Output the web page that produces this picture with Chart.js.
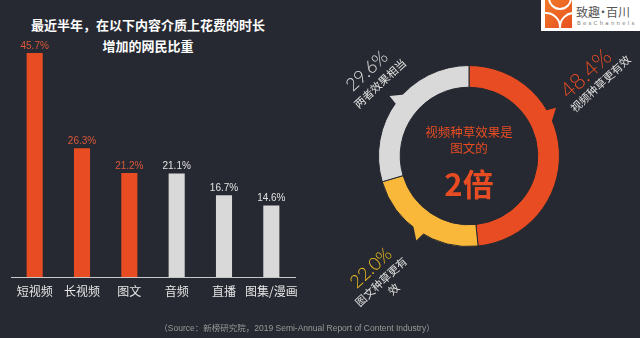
<!DOCTYPE html>
<html><head><meta charset="utf-8">
<script src="https://cdn.jsdelivr.net/npm/chart.js@4/dist/chart.umd.min.js"></script>
<style>
html,body{margin:0;padding:0;width:640px;height:338px;overflow:hidden;background:#262931;font-family:"Noto Sans CJK SC","Noto Sans",sans-serif;}
#bar{position:absolute;left:0;top:0;}
#pie{position:absolute;left:330px;top:0;}
.title{position:absolute;left:0;width:296px;text-align:center;color:#fff;font-weight:bold;font-size:13px;line-height:16px;}
#src{position:absolute;left:0;width:594px;top:321px;text-align:center;color:#9a9a9a;font-size:8.5px;font-family:"Liberation Sans","Noto Sans CJK SC",sans-serif;white-space:nowrap;}
#logo{position:absolute;left:541px;top:0;width:99px;height:31px;background:#fff;}
#logo .ic{position:absolute;left:4px;top:0;width:27px;height:28px;background:linear-gradient(135deg,#f07a2a,#e8501e);overflow:hidden;}
#logo .ic span{position:absolute;border:2px solid #fff;border-radius:50%;}
#logo .t1{position:absolute;left:35px;top:3px;font-size:12px;color:#555;white-space:nowrap;}
#logo .t2{position:absolute;left:36px;top:20px;font-size:5.5px;color:#777;letter-spacing:2.2px;font-family:"DejaVu Sans",sans-serif;white-space:nowrap;}
</style></head>
<body>
<div class="title" style="top:17px">最近半年，在以下内容介质上花费的时长</div>
<div class="title" style="top:38px">增加的网民比重</div>
<canvas id="bar" width="320" height="307"></canvas>
<canvas id="pie" width="310" height="338"></canvas>
<div id="logo"><div class="ic"><span style="left:-14px;top:12px;width:26px;height:26px"></span><span style="left:14px;top:12px;width:26px;height:26px"></span><span style="left:3px;top:-14px;width:20px;height:20px"></span></div><div class="t1">致趣<span style="margin:0 -3px">·</span>百川</div><div class="t2">BesChannels</div></div>
<div id="src">（Source：新榜研究院，2019 Semi-Annual Report of Content Industry）</div>
<script>
const categories = ['短视频','长视频','图文','音频','直播','图集/漫画'];
const shareValues = [45.7, 26.3, 21.2, 21.1, 16.7, 14.6];
const highlightCount = 3;

const pieLabels = ['视频种草更有效','图文种草更有效','两者效果相当'];
const pieValues = [48.4, 22.0, 29.6];

const ORANGE = '#e84c22';
const barColors = shareValues.map((v,i)=> i < highlightCount ? ORANGE : '#d9d9d9');
const valueLabelColors = shareValues.map((v,i)=> i < highlightCount ? '#dc583c' : '#e2e2e2');

const barLabelPlugin = {
  id:'barLabels',
  afterDatasetsDraw(chart){
    const ctx = chart.ctx;
    const meta = chart.getDatasetMeta(0);
    ctx.save();
    ctx.font = '10px "Liberation Sans", Arial, sans-serif';
    ctx.textAlign = 'center';
    ctx.textBaseline = 'bottom';
    meta.data.forEach((bar,i)=>{
      ctx.fillStyle = valueLabelColors[i];
      ctx.fillText(shareValues[i].toFixed(1)+'%', bar.x, bar.y - 2);
    });
    ctx.restore();
  }
};

new Chart(document.getElementById('bar'), {
  type:'bar',
  data:{labels:categories, datasets:[{data:shareValues, backgroundColor:barColors, borderWidth:0, barPercentage:0.34, categoryPercentage:1}]},
  options:{
    responsive:false, animation:false,
    layout:{padding:{left:11,right:25,top:32,bottom:1.6}},
    plugins:{legend:{display:false}, tooltip:{enabled:false}},
    scales:{
      x:{grid:{display:false, drawTicks:false}, border:{display:true,color:'#c8c8c8',width:1},
         ticks:{color:'#e6e6e6', padding:7, maxRotation:0, minRotation:0, autoSkip:false, font:{size:12,family:'"Noto Sans CJK SC"'}}},
      y:{display:false, min:0, max:50}
    }
  },
  plugins:[barLabelPlugin]
});

const pieColors = [ORANGE, '#f9b83a', '#d9d9d9'];
const pieTextColors = [ORANGE, '#f3c01e', '#e2e2e2'];
const pieLabelStyle = [
  {dx:117, dy:-82, size:22, lines:[['视频种草更有效',4,17]]},
  {dx:-98, dy:112, size:18, lines:[['图文种草更有',-2,17],['效',2,31]]},
  {dx:-102, dy:-85, size:18, lines:[['两者效果相当',1,18]]}
];
const tailAngles = [64, 215, 310];

const donutPlugin = {
  id:'donutDeco',
  afterDatasetsDraw(chart){
    const ctx = chart.ctx;
    const meta = chart.getDatasetMeta(0);
    const arc0 = meta.data[0];
    const cx = arc0.x, cy = arc0.y, R = arc0.outerRadius;
    ctx.save();
    meta.data.forEach((arc,i)=>{
      const a = (tailAngles[i]-90)*Math.PI/180;
      const d = 5*Math.PI/180;
      ctx.fillStyle = pieColors[i];
      ctx.beginPath();
      ctx.moveTo(cx+(R-3)*Math.cos(a-d), cy+(R-3)*Math.sin(a-d));
      ctx.lineTo(cx+(R+9)*Math.cos(a-d*0.6), cy+(R+9)*Math.sin(a-d*0.6));
      ctx.lineTo(cx+(R-3)*Math.cos(a+d), cy+(R-3)*Math.sin(a+d));
      ctx.closePath();
      ctx.fill();
    });
    pieValues.forEach((v,i)=>{
      const s = pieLabelStyle[i];
      ctx.save();
      ctx.translate(cx+s.dx, cy+s.dy);
      ctx.rotate(-43*Math.PI/180);
      ctx.textAlign='center'; ctx.textBaseline='middle';
      ctx.fillStyle = pieTextColors[i];
      ctx.font = '300 '+s.size+'px Lato, "Noto Sans", sans-serif';
      ctx.fillText(v.toFixed(1)+'%', 0, 0);
      ctx.fillStyle = '#e0e0e0';
      ctx.font = '11px "Noto Sans CJK SC"';
      s.lines.forEach(l=>ctx.fillText(l[0], l[1], l[2]));
      ctx.restore();
    });
    ctx.textAlign='center'; ctx.textBaseline='middle';
    ctx.fillStyle = ORANGE;
    ctx.font = '12.5px "Noto Sans CJK SC"';
    ctx.fillText('视频种草效果是', cx, cy-24);
    ctx.fillText('图文的', cx, cy-8);
    ctx.font = 'bold 31px "Noto Sans CJK SC"';
    ctx.fillText('2倍', cx, cy+28);
    ctx.restore();
  }
};

new Chart(document.getElementById('pie'), {
  type:'doughnut',
  data:{labels:pieLabels, datasets:[{data:pieValues, backgroundColor:pieColors, borderColor:'#262931', borderWidth:1}]},
  options:{
    responsive:false, animation:false, cutout:'76%',
    layout:{padding:{left:48,right:80,top:65,bottom:91}},
    plugins:{legend:{display:false}, tooltip:{enabled:false}}
  },
  plugins:[donutPlugin]
});
</script>
</body></html>
